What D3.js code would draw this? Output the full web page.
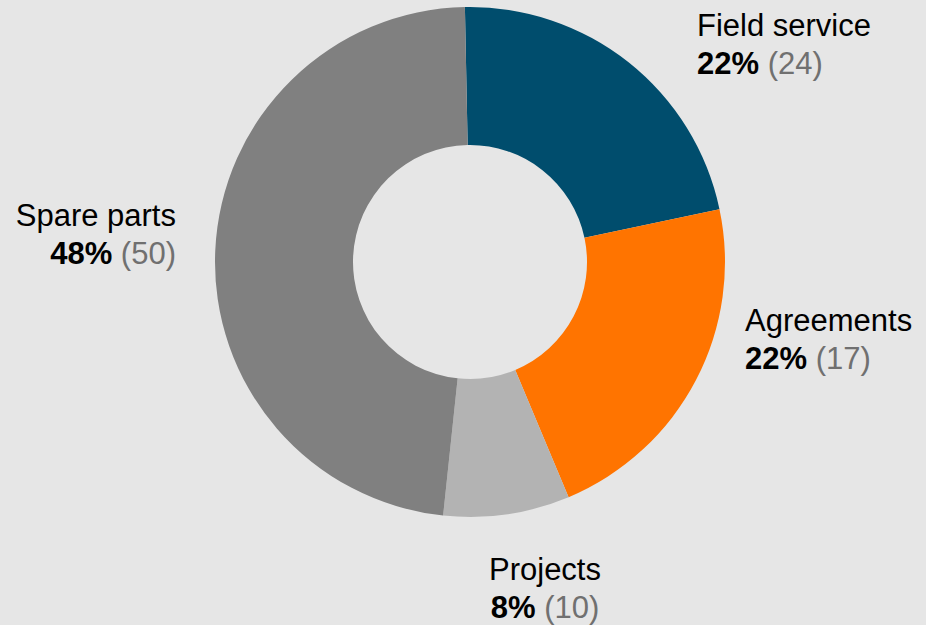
<!DOCTYPE html>
<html>
<head>
<meta charset="utf-8">
<script src="https://cdn.jsdelivr.net/npm/d3@7"></script>
<style>
  body { margin: 0; background: #e6e6e6; }
  svg { display: block; font-family: "Liberation Sans", Arial, sans-serif; }
</style>
</head>
<body>
<div id="chart"></div>
<script>
const categories = ["Field service", "Agreements", "Projects", "Spare parts"];
const shares = [22, 22, 8, 48];
const counts = [24, 17, 10, 50];
const colours = ["#004d6d", "#ff7400", "#b3b3b3", "#808080"];

const width = 926;
const height = 625;
const cx = 470;
const cy = 262;
const outerR = 255;
const innerR = 117;

const svg = d3.select("#chart")
  .append("svg")
  .attr("width", width)
  .attr("height", height);

const startOffset = -0.02; // slight tilt, first slice starts just left of 12 o'clock

const pie = d3.pie()
  .sort(null)
  .value((d) => d.share)
  .startAngle(startOffset)
  .endAngle(startOffset + 2 * Math.PI);

const arc = d3.arc().innerRadius(innerR).outerRadius(outerR);

const rows = categories.map((c, i) => ({
  name: c,
  share: shares[i],
  count: counts[i],
  colour: colours[i],
}));

const g = svg.append("g").attr("transform", `translate(${cx},${cy})`);

g.selectAll("path")
  .data(pie(rows))
  .enter()
  .append("path")
  .attr("d", arc)
  .attr("fill", (d) => d.data.colour);

// label placement next to each slice (hand tuned like the original)
const labelLayout = {
  "Field service": { x: 697, y: 36, anchor: "start" },
  "Agreements": { x: 745, y: 331, anchor: "start" },
  "Projects": { x: 545, y: 580, anchor: "middle" },
  "Spare parts": { x: 176, y: 226, anchor: "end" },
};

const labels = svg.selectAll("text.lbl")
  .data(rows)
  .enter()
  .append("text")
  .attr("class", "lbl")
  .attr("text-anchor", (d) => labelLayout[d.name].anchor)
  .attr("font-size", 31)
  .attr("fill", "#000");

labels.append("tspan")
  .attr("x", (d) => labelLayout[d.name].x)
  .attr("y", (d) => labelLayout[d.name].y)
  .text((d) => d.name);

const line2 = labels.append("tspan")
  .attr("x", (d) => labelLayout[d.name].x)
  .attr("y", (d) => labelLayout[d.name].y + 38);

line2.append("tspan")
  .attr("font-weight", "bold")
  .text((d) => d.share + "%");

line2.append("tspan")
  .attr("fill", "#707070")
  .text((d) => " (" + d.count + ")");
</script>
</body>
</html>
